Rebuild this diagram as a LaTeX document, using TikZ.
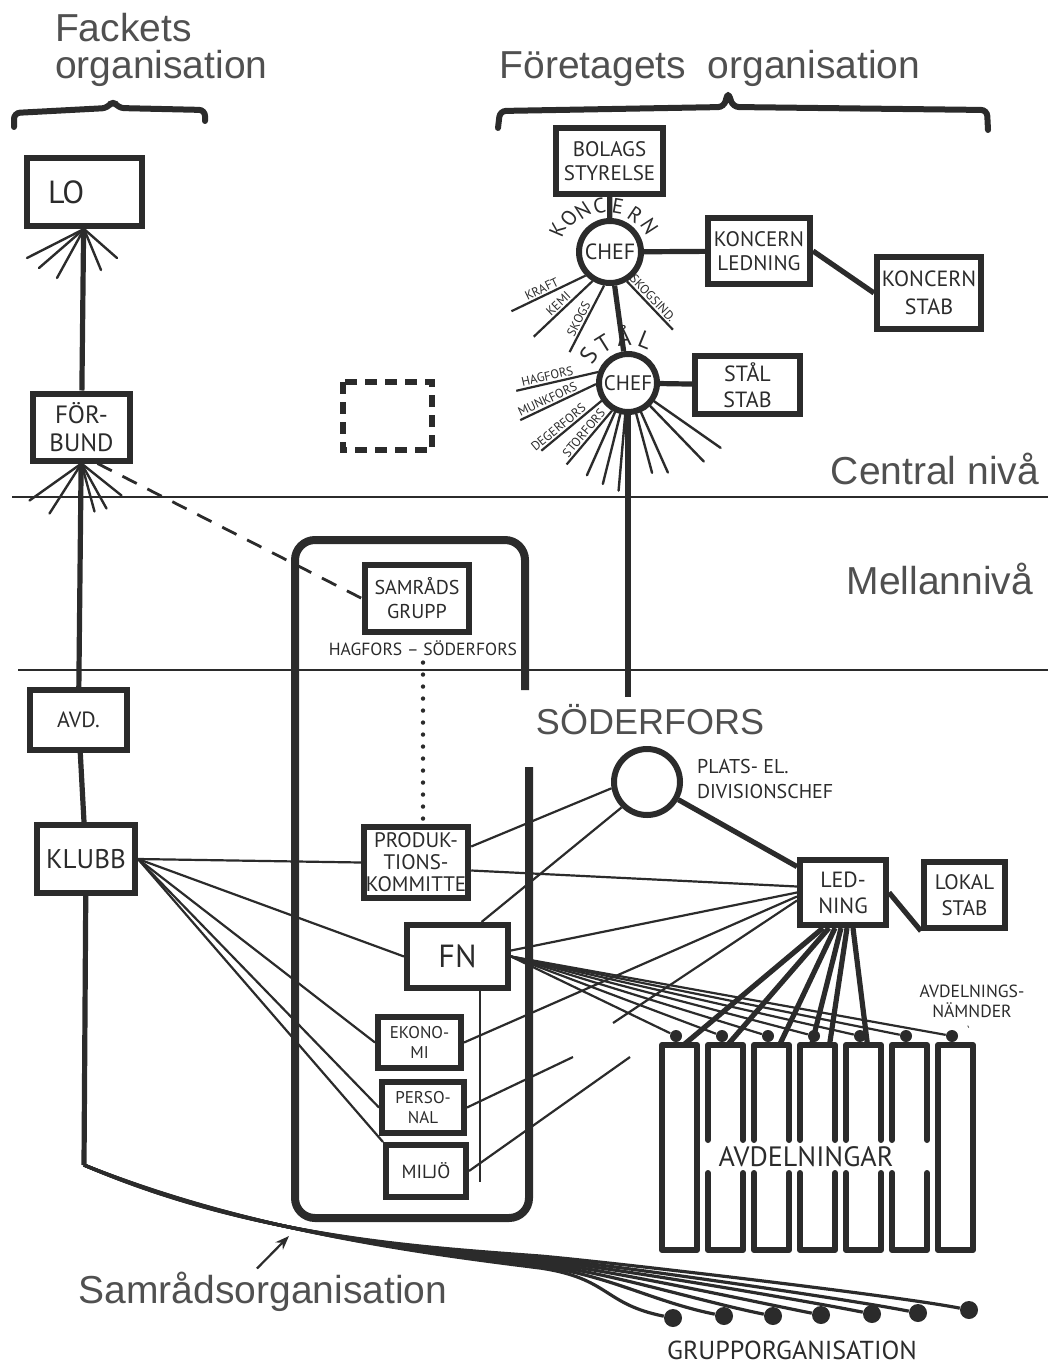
\documentclass[tikz,border=0pt]{standalone}
\usepackage{fontspec}
\setmainfont{Liberation Sans}
\newfontfamily\handfont{PT Sans}
\usetikzlibrary{arrows.meta,calc}
\definecolor{ink}{HTML}{2B2B2B}
\definecolor{print}{HTML}{505050}
\tikzset{>=Stealth,
  box/.style={draw=ink,line width=3pt,inner sep=1pt,align=center,text=ink},
  chefring/.style={draw=ink,line width=3pt,circle,inner sep=0pt,text=ink},
  link/.style={draw=ink,line width=2.6pt},
  wire/.style={draw=ink,line width=1.1pt},
  ray/.style={draw=ink,line width=1.2pt,line cap=round},
  bundle/.style={draw=ink,line width=1.6pt},
  level/.style={draw=ink,line width=1pt},
  frame/.style={draw=ink,line width=4pt,rounded corners=10pt},
  colline/.style={draw=ink,line width=3pt,line cap=round,line join=round},
  brace/.style={draw=ink,line width=3pt,line cap=round,rounded corners=3pt},
  dotline/.style={draw=ink,line width=2.2pt,line cap=round,dash pattern=on 0pt off 6pt},
  dashline/.style={draw=ink,line width=1.4pt,dash pattern=on 8pt off 6pt},
  heading/.style={text=print,font=\fontsize{19.5}{22}\selectfont},
  hand/.style 2 args={text=ink,font=\handfont\fontsize{#1}{#2}\selectfont},
  linelabel/.style={text=ink,inner sep=0.8pt,font=\handfont\fontsize{6.3}{6.5}\selectfont},
  nd/.style={circle,fill=ink,inner sep=0pt,minimum size=6pt},
  gdot/.style={circle,fill=ink,inner sep=0pt,minimum size=9pt}}

\begin{document}
\begin{tikzpicture}[x=0.5pt,y=-0.5pt]
\useasboundingbox (0,0) rectangle (1048,1364);

% printed headings
\node[heading,anchor=base west] (fackets) at (48,42) {Fackets};
\node[heading,anchor=base west] (fackorg) at (48,79) {organisation};
\node[heading,anchor=base] (ftgorg) at (710,79) {Företagets\ \ organisation};
\node[heading,anchor=base east] (central) at (1046,484) {Central nivå};
\node[heading,anchor=base] (mellan) at (940,594) {Mellannivå};
\node[heading,font=\fontsize{18}{20}\selectfont,anchor=base] (soder) at (650,734) {SÖDERFORS};
\node[heading,anchor=base] (sorg) at (263,1303) {Samrådsorganisation};

\draw[brace] (14,127) -- (14,113) -- (108,108) -- (113,100) -- (118,108) -- (205,110) -- (205,121);
\draw[brace] (498,128) -- (500,111) -- (724,107) -- (728,92) -- (733,107) -- (987,110) -- (988,130);

% levels
\draw[level] (12,497) -- (1048,497);
\draw[level] (18,670) -- (1048,670);

% union side
\node[box,hand={16}{18},minimum width=57.5pt,minimum height=34pt,text width=36pt,align=left] (lo) at (84,192) {LO};
\node[box,hand={12.5}{14},minimum width=48.5pt,minimum height=33.5pt] (forbund) at (81.5,427) {FÖR-\\BUND};
\node[box,hand={11}{12},minimum width=48.5pt,minimum height=30pt] (avd) at (78.5,720) {AVD.};
\node[box,hand={13.5}{15},minimum width=49pt,minimum height=34pt] (klubb) at (86,859) {KLUBB};
\coordinate (sro) at (84,1165);
\draw[link] (lo) -- (forbund);
\draw[link] (forbund) -- (avd);
\draw[link] (avd) -- (klubb);
\draw[link] (klubb) -- (sro);
\foreach \dx/\dy in {-57/29,-45/39,-27/49,17/41,33/29}
  \draw[ray] (lo.south) -- ++(\dx,\dy);
\foreach \dx/\dy in {-52/37,-32/50,13/48,25/45,40/32}
  \draw[ray] (forbund.south) -- ++(\dx,\dy);
\draw[dashline,line width=3pt,dash pattern=on 6pt off 4pt] (343,382) rectangle (432,450);

% company side
\node[box,hand={10.5}{12},minimum width=53.5pt,minimum height=33pt] (bolag) at (609.5,161) {BOLAGS\\STYRELSE};
\node[chefring,hand={11}{12},minimum size=31pt] (kchef) at (610,252) {CHEF};
\node[box,hand={10.5}{12},minimum width=51pt,minimum height=32.5pt] (kled) at (759,251) {KONCERN\\LEDNING};
\node[box,hand={11}{14},minimum width=52pt,minimum height=36pt] (kstab) at (929,293) {KONCERN\\STAB};
\node[chefring,hand={10.5}{12},minimum size=29pt] (schef) at (628,383) {CHEF};
\node[box,hand={11}{13},minimum width=52.5pt,minimum height=29pt] (sstab) at (747.5,385) {STÅL\\STAB};
\draw[link] (bolag) -- (kchef);
\draw[link] (kchef) -- (kled);
\draw[link] (kled.east) -- (kstab.west);
\draw[link] (kchef) -- (schef);
\draw[link] (schef) -- (sstab);
\draw[link] (schef) -- (schef.south |- soder.north);
\foreach \ch/\ang/\rad in {K/203/57,O/219/53,N/237/50,C/257/47,E/280/46,R/304/45,N/327/47}
  \node[hand={10.5}{11},rotate=270-\ang] at ($(kchef)+(\ang:\rad)$) {\ch};
\foreach \ch/\ang/\rad in {S/215/48,T/238/46,Å/265/47,L/292/46}
  \node[hand={12}{12},rotate=270-\ang] at ($(schef)+(\ang:\rad)$) {\ch};
\foreach \sa/\ea/\er/\txt/\p in {136/149/115/KRAFT/0.45,121/132/114/KEMI/0.5,100/112/108/SKOGS/0.45}
  \draw[wire] ($(kchef)+(\ea:\er)$) -- node[linelabel,sloped,above,pos=\p] {\txt} ($(kchef)+(\sa:34)$);
\draw[wire] ($(kchef)+(60:34)$) -- node[linelabel,sloped,above,pos=0.45] {SKOGSIND.} ($(kchef)+(51:100)$);
\foreach \sa/\ea/\er/\txt/\p in {200/176/112/HAGFORS/0.4,178/161/114/MUNKFORS/0.4,146/142/110/DEGERFORS/0.36,120/127/102/STORFORS/0.5}
  \draw[wire] ($(schef)+(\ea:\er)$) -- node[linelabel,sloped,above,pos=\p] {\txt} ($(schef)+(\sa:32)$);
\foreach \ang/\len in {114/101,104/104,95/108,75/93,66/98,46/109,35/113}
  \draw[ray] ($(schef)+(\ang:32)$) -- ($(schef)+(\ang:\len)$);

% samråd frame
\draw[frame] (525,690) -- (525,540) -- (295,540) -- (295,1218) -- (529,1218) -- (529,767);
\node[box,hand={10}{12},minimum width=52pt,minimum height=33.5pt] (samrad) at (417,598.5) {SAMRÅDS\\GRUPP};
\node[hand={8.8}{9}] (hs) at (423,648) {HAGFORS – SÖDERFORS};
\node[box,hand={10.5}{11},minimum width=52pt,minimum height=35.5pt] (prod) at (416,862.5) {PRODUK-\\TIONS-\\KOMMITTE};
\node[box,hand={16}{18},minimum width=50.5pt,minimum height=31.5pt] (fn) at (457.5,956.5) {FN};
\node[box,hand={8.5}{10},minimum width=41.5pt,minimum height=25.5pt] (ekon) at (419.5,1042.5) {EKONO-\\MI};
\node[box,hand={8.5}{10},minimum width=41pt,minimum height=25.5pt] (pers) at (423,1107.5) {PERSO-\\NAL};
\node[box,hand={9.5}{10},minimum width=40pt,minimum height=26pt] (miljo) at (426,1171) {MILJÖ};
\draw[dashline] ([xshift=8pt]forbund.south) -- (samrad.west);
\draw[dotline] (hs.south) -- (hs.south |- prod.north);
\coordinate (fnfoot) at (480,1182);
\draw[wire] (fn.south -| fnfoot) -- (fnfoot);

% local management
\node[chefring,minimum size=33pt] (plats) at (647,782) {};
\node[hand={10}{12.5},anchor=west,align=left] (platstxt) at (690,779) {PLATS- EL.\\DIVISIONSCHEF};
\node[box,hand={11}{13},minimum width=43pt,minimum height=32.5pt] (ledning) at (843,892.5) {LED-\\NING};
\node[box,hand={10.5}{13},minimum width=40.5pt,minimum height=33pt] (lokal) at (964.5,895) {LOKAL\\STAB};
\draw[link] (plats) -- (ledning);
\draw[link] (ledning.east) -- (lokal.south west);

% avdelningar
\foreach \lft [count=\i] in {662,708,754,800,846,892,938} {
  \draw[colline] (\lft,1140) -- (\lft,1045) -- (\lft+35,1045) -- (\lft+35,1140);
  \draw[colline] (\lft,1173) -- (\lft,1250) -- (\lft+35,1250) -- (\lft+35,1173);
  \coordinate (avd\i) at (\lft+17.5,1045);
  \node[nd] (nd\i) at (\lft+14,1036) {};
}
\draw[colline] (662,1140) -- (662,1173) (697,1140) -- (697,1173)
  (938,1140) -- (938,1173) (973,1140) -- (973,1173);
\node[hand={14}{15}] (avdtxt) at (806,1157) {AVDELNINGAR};
\node[hand={8.8}{10},align=center] (nmdtxt) at (972,1001) {AVDELNINGS-\\NÄMNDER};
\draw[wire,shorten <=2pt,shorten >=6pt] (nmdtxt.south) -- (nd7);
\foreach \s/\t/\o in {-10/1/2,-7/2/1,-4/3/4,-1/4/-3,2/4/6,5/5/2}
  \draw[link] ([xshift=\s pt]ledning.south) -- ([xshift=\o pt]avd\t);
\foreach \i in {1,...,7}
  \draw[wire] (fn.east) -- (nd\i);

% cross links
\foreach \t in {prod.west,fn.west,ekon.west,pers.west,miljo.north west}
  \draw[wire] (klubb.east) -- (\t);
\coordinate (stubA) at (613,1023);
\coordinate (stubB) at (573,1057);
\coordinate (stubC) at (630,1057);
\draw[wire] ([yshift=8pt]prod.east) -- (plats.190);
\draw[wire] ([yshift=-4pt]prod.east) -- ([yshift=3pt]ledning.west);
\draw[wire] ([xshift=12pt]fn.north) -- (plats.225);
\draw[wire] ([yshift=3pt]fn.east) -- (ledning.west);
\draw[wire] (ekon.east) -- ([yshift=-2pt]ledning.west);
\draw[wire] ([yshift=-4pt]ledning.west) -- (stubA);
\draw[wire] (pers.east) -- (stubB);
\draw[wire] (miljo.east) -- (stubC);

% group organisation
\foreach \gx/\gy [count=\i] in {673/1318,724/1316,773/1316,821/1315,872/1314,918/1313,969/1310}
  \node[gdot] (g\i) at (\gx,\gy) {};
\foreach \i in {1,...,7}
  \draw[bundle] (sro) .. controls (250,1230+\i) and (420,1254-\i) .. (540,1270-2*\i)
    .. controls (610,1281-2.7*\i) and ($(g\i)+(-70,-14)$) .. (g\i);
\node[hand={13}{14}] (grupptxt) at (792,1350) {GRUPPORGANISATION};
\coordinate (bundlept) at (289,1236);
\draw[wire,-{Stealth[length=7pt]}] ([xshift=-3pt,yshift=-2pt]sorg.north) -- (bundlept);
\end{tikzpicture}
\end{document}
